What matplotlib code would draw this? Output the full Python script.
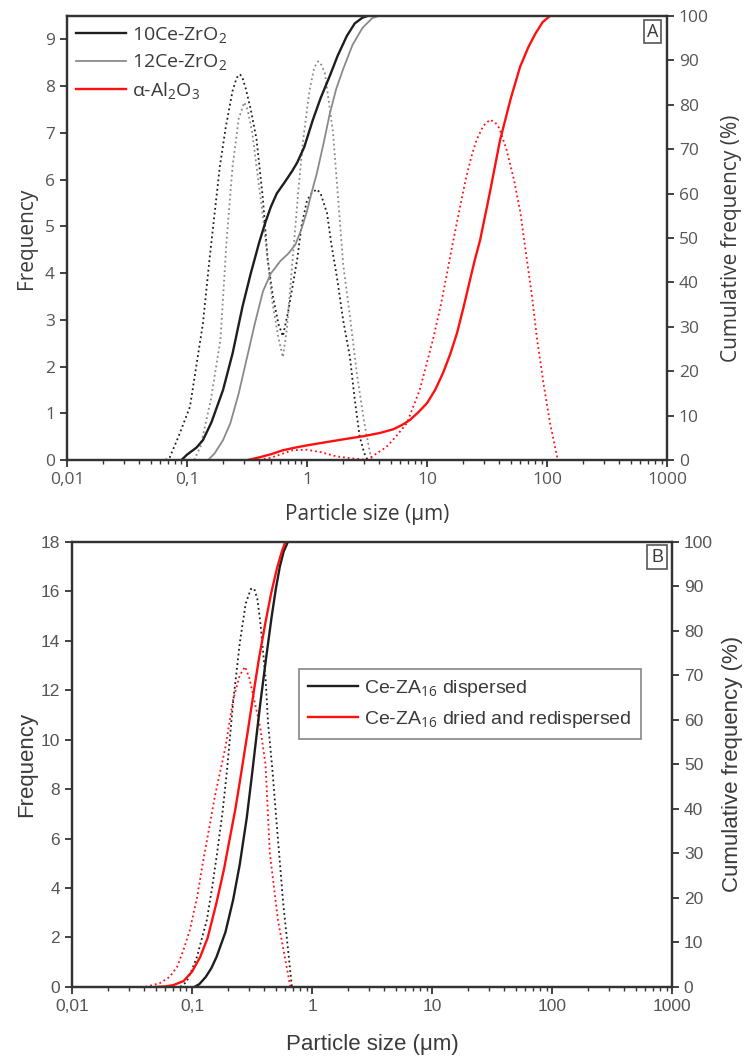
import matplotlib
matplotlib.use("Agg")
import matplotlib.pyplot as plt
from matplotlib.ticker import LogLocator, NullFormatter

# ---- panel A data ----
ce10_freq_x = [0.066, 0.072, 0.085, 0.106, 0.136, 0.155, 0.188, 0.21, 0.24, 0.26, 0.277, 0.29, 0.31,
               0.34, 0.38, 0.43, 0.47, 0.52, 0.58, 0.63, 0.7, 0.78, 0.83, 0.9, 1.0, 1.1, 1.21, 1.3,
               1.47, 1.6, 1.78, 2.0, 2.28, 2.5, 2.75, 3.0, 3.2]
ce10_freq_y = [0, 0.06, 0.5, 1.14, 2.93, 4.35, 6.28, 7.1, 7.9, 8.18, 8.25, 8.18, 7.93,
               7.5, 6.86, 5.57, 4.3, 3.5, 2.9, 2.65, 3.2, 3.9, 4.3, 5.0, 5.55, 5.72, 5.79, 5.7,
               5.28, 4.6, 3.9, 3.0, 2.2, 1.3, 0.5, 0.15, 0]

ce12_freq_x = [0.115, 0.13, 0.158, 0.19, 0.214, 0.24, 0.27, 0.30, 0.32, 0.35, 0.43, 0.47, 0.52, 0.58,
               0.63, 0.68, 0.76, 0.85, 0.93, 1.05, 1.15, 1.24, 1.32, 1.41, 1.65, 2.0, 2.3, 2.6, 3.0,
               3.35, 3.5]
ce12_freq_y = [0, 0.3, 1.28, 2.57, 4.7, 6.28, 7.3, 7.65, 7.5, 7.0, 5.2, 4.3, 3.3, 2.6,
               2.2, 2.8, 4.3, 5.8, 6.86, 7.9, 8.4, 8.53, 8.45, 8.28, 7.0, 4.2, 3.0, 1.86, 0.8,
               0.15, 0]

al_freq_x = [0.4, 0.5, 0.76, 1.0, 1.3, 1.75, 2.28, 2.8, 3.16, 3.6, 4.6, 5.5, 6.8, 8.7, 11.2, 13.0,
             14.7, 16.0, 17.8, 21.0, 23.5, 26.0, 29.5, 33.5, 37.0, 40.0, 46.0, 53.0, 60.0, 67.0,
             75.0, 82.5, 94.0, 106.0, 123.0]
al_freq_y = [0, 0.05, 0.21, 0.22, 0.17, 0.08, 0.04, 0.02, 0, 0.1, 0.28, 0.5, 0.79, 1.5, 2.57, 3.3,
             4.0, 4.5, 5.1, 6.0, 6.5, 6.86, 7.15, 7.28, 7.22, 7.1, 6.64, 6.0, 5.3, 4.4,
             3.5, 2.6, 1.6, 0.79, 0]

ce10_cum_x = [0.09, 0.1, 0.12, 0.136, 0.16, 0.2, 0.24, 0.29, 0.34, 0.4, 0.45, 0.5, 0.56, 0.65, 0.75,
              0.83, 0.95, 1.12, 1.3, 1.55, 1.8, 2.15, 2.5, 2.9, 3.2]
ce10_cum_y = [0, 1.2, 2.8, 4.5, 8.5, 15.8, 24, 34.5, 42, 49, 53.5, 57, 60, 62.5, 65,
              67, 70.5, 76.6, 81.5, 86.5, 91, 95.5, 98.3, 99.6, 100]

ce12_cum_x = [0.15, 0.17, 0.2, 0.23, 0.27, 0.316, 0.37, 0.43, 0.5, 0.6, 0.7, 0.8, 0.9, 1.0, 1.1,
              1.21, 1.38, 1.55, 1.75, 2.0, 2.4, 2.9, 3.5, 4.0]
ce12_cum_y = [0, 1.5, 4.5, 8.3, 15, 23, 31, 38, 42, 44.8, 46.5, 48.5, 52, 56, 60.5,
              64.6, 71.5, 78, 83.5, 88, 93.5, 97.3, 99.5, 100]

al_cum_x = [0.32, 0.4, 0.5, 0.63, 0.8, 1.0, 1.5, 2.28, 3.0, 4.06, 5.2, 6.2, 7.2, 8.5, 10.0, 11.7,
            13.6, 15.6, 17.8, 20.2, 22.8, 25.0, 27.7, 33.0, 40.6, 50.0, 59.6, 70.0, 80.0, 92.0, 106.0]
al_cum_y = [0, 0.6, 1.3, 2.2, 2.8, 3.3, 4.1, 4.9, 5.4, 6.1, 6.9, 7.9, 9, 10.8, 12.8, 15.8,
            19.6, 23.8, 28.6, 34.5, 40.5, 45, 49.5, 59.5, 72, 81.5, 88.5, 93, 96, 98.6, 100]

labels_a = ["10Ce-ZrO$_2$", "12Ce-ZrO$_2$", "\u03b1-Al$_2$O$_3$"]

# ---- panel B data ----
disp_freq_x = [0.08, 0.09, 0.1, 0.11, 0.12, 0.133, 0.147, 0.162, 0.18, 0.196, 0.22, 0.25, 0.28,
               0.31, 0.33, 0.35, 0.37, 0.41, 0.43, 0.47, 0.5, 0.575, 0.68]
disp_freq_y = [0, 0.2, 0.7, 1.21, 1.9, 2.71, 4.0, 5.42, 7.1, 8.78, 11.5, 13.9, 15.5,
               16.1, 16.1, 15.7, 14.8, 12.5, 10.7, 8.66, 7.0, 3.4, 0]

dried_freq_x = [0.041, 0.054, 0.065, 0.075, 0.085, 0.096, 0.11, 0.123, 0.14, 0.155, 0.19, 0.22,
                0.25, 0.277, 0.3, 0.32, 0.37, 0.41, 0.445, 0.52, 0.66]
dried_freq_y = [0, 0.15, 0.4, 0.8, 1.5, 2.3, 3.6, 5.0, 6.5, 7.7, 9.7, 11.6,
                12.6, 12.95, 12.5, 11.9, 10.5, 9.0, 5.42, 2.71, 0]

disp_cum_x = [0.105, 0.115, 0.13, 0.145, 0.16, 0.19, 0.22, 0.25, 0.286, 0.314, 0.34, 0.37, 0.415,
              0.46, 0.5, 0.54, 0.58, 0.63]
disp_cum_y = [0, 0.6, 2.2, 4.2, 6.7, 12.3, 19.5, 27.5, 38, 47, 55, 63.5, 74,
              83, 89.5, 94.5, 97.8, 100]

dried_cum_x = [0.05, 0.06, 0.07, 0.085, 0.1, 0.117, 0.135, 0.16, 0.185, 0.207, 0.23, 0.25, 0.29,
               0.33, 0.36, 0.41, 0.457, 0.51, 0.56, 0.6]
dried_cum_y = [0, 0.1, 0.4, 1.3, 3.4, 6.7, 11, 18.9, 26.5, 33.5, 40, 46, 57,
               67, 73.5, 82, 88.5, 94, 97.8, 100]

labels_b = ["Ce-ZA$_{16}$ dispersed", "Ce-ZA$_{16}$ dried and redispersed"]

x_ticks = [0.01, 0.1, 1, 10, 100, 1000]
x_ticklabels = ["0,01", "0,1", "1", "10", "100", "1000"]

BLACK = "#1e1e1e"
GRAY = "#8a8a8a"
RED = "#ff1010"
TXT = "#3a3a3a"

plt.rcParams["mathtext.fontset"] = "custom"
plt.rcParams["mathtext.rm"] = "Open Sans"
plt.rcParams["mathtext.it"] = "Open Sans"


def style_axes(ax, ax2, family, left_max, left_ticks, lab_size, coords):
    ax.set_xscale("log")
    ax.set_xlim(0.01, 1000)
    ax.set_ylim(0, left_max)
    ax2.set_ylim(0, 100)
    ax.set_yticks(left_ticks)
    ax2.set_yticks(range(0, 101, 10))
    ax.set_xticks(x_ticks)
    ax.set_xticklabels(x_ticklabels)
    ax.xaxis.set_minor_locator(LogLocator(base=10, subs=range(2, 10), numticks=20))
    ax.xaxis.set_minor_formatter(NullFormatter())
    for a in (ax, ax2):
        for s in a.spines.values():
            s.set_linewidth(1.6)
            s.set_color("#333333")
        a.tick_params(which="major", direction="out", length=5, width=1.3,
                      color="#333333", labelsize=12.5, labelcolor="#555555")
        a.tick_params(which="minor", direction="out", length=3, width=1.0, color="#333333")
        for lab in a.get_xticklabels() + a.get_yticklabels():
            lab.set_family(family)
    ax.tick_params(axis="x", which="both", top=False)
    ax.set_xlabel("Particle size (\u03bcm)", fontsize=lab_size, color=TXT, family=family)
    ax.set_ylabel("Frequency", fontsize=lab_size, color=TXT, family=family)
    ax2.set_ylabel("Cumulative frequency (%)", fontsize=lab_size, color=TXT, family=family)
    ax.xaxis.set_label_coords(0.5, coords[0])
    ax.yaxis.set_label_coords(coords[1], 0.5)
    ax2.yaxis.set_label_coords(coords[2], 0.5)


fig = plt.figure(figsize=(7.52, 10.6), dpi=100)

# Panel A
axA = fig.add_axes([0.089, 0.566, 0.798, 0.419])
axA2 = axA.twinx()
axA.plot(ce10_freq_x, ce10_freq_y, ls=":", lw=1.3, color=BLACK)
axA.plot(ce12_freq_x, ce12_freq_y, ls=":", lw=1.3, color=GRAY)
axA.plot(al_freq_x, al_freq_y, ls=":", lw=1.3, color=RED)
axA2.plot(ce10_cum_x, ce10_cum_y, lw=1.7, color=BLACK, label=labels_a[0])
axA2.plot(ce12_cum_x, ce12_cum_y, lw=1.3, color=GRAY, label=labels_a[1])
axA2.plot(al_cum_x, al_cum_y, lw=1.7, color=RED, label=labels_a[2])
style_axes(axA, axA2, "Open Sans", 9.5, range(0, 10), 15, (-0.1, -0.05, 1.09))
legA = axA2.legend(loc="upper left", frameon=False, handlelength=2.6,
                   handletextpad=0.3, borderaxespad=0.05, labelspacing=0.4,
                   prop={"family": "Open Sans", "size": 14})
for t in legA.get_texts():
    t.set_color(TXT)
axA2.text(0.985, 0.985, "A", transform=axA2.transAxes, ha="right", va="top", fontsize=13,
          family="Open Sans", color=TXT,
          bbox=dict(boxstyle="square,pad=0.15", fc="white", ec="#555555", lw=1.2))

# Panel B
axB = fig.add_axes([0.0957, 0.069, 0.798, 0.4198])
axB2 = axB.twinx()
axB.plot(disp_freq_x, disp_freq_y, ls=":", lw=1.3, color=BLACK)
axB.plot(dried_freq_x, dried_freq_y, ls=":", lw=1.3, color=RED)
axB2.plot(disp_cum_x, disp_cum_y, lw=1.7, color=BLACK, label=labels_b[0])
axB2.plot(dried_cum_x, dried_cum_y, lw=1.7, color=RED, label=labels_b[1])
style_axes(axB, axB2, "Liberation Sans", 18, range(0, 19, 2), 16, (-0.105, -0.058, 1.083))
legB = axB2.legend(loc="center", bbox_to_anchor=(0.663, 0.636), frameon=True, fancybox=False,
                   handlelength=2.6, handletextpad=0.3, labelspacing=0.55, borderpad=0.45,
                   prop={"family": "Liberation Sans", "size": 14})
legB.get_frame().set_edgecolor("#666666")
legB.get_frame().set_linewidth(1.2)
for t in legB.get_texts():
    t.set_color(TXT)
axB2.text(0.985, 0.985, "B", transform=axB2.transAxes, ha="right", va="top", fontsize=13,
          family="Liberation Sans", color=TXT,
          bbox=dict(boxstyle="square,pad=0.2", fc="white", ec="#555555", lw=1.2))

fig.savefig("out.png", dpi=100)
